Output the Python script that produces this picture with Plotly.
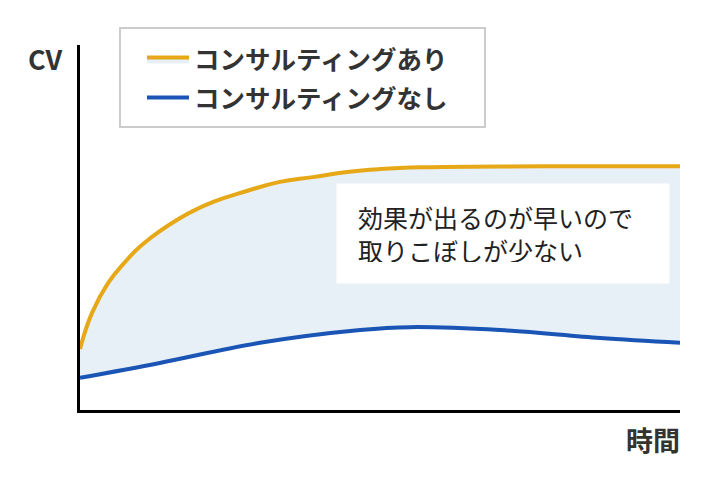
import plotly.graph_objects as go

# Values (x: time 0-100, y: CV 0-100)
time_with = [0, 2, 4.7, 7.5, 10.3, 16.7, 22.2, 27.8, 33.3, 38.8, 44.5, 50, 56.7, 70, 85, 100]
cv_with = [16.7, 26.6, 34.8, 40.5, 45.2, 52.6, 57.0, 60.0, 62.5, 63.8, 65.2, 66.0, 66.5, 66.7, 66.8, 66.8]

time_without = [0, 13.3, 30, 46.7, 55, 70, 86.7, 100]
cv_without = [8.8, 12.9, 18.4, 21.9, 22.7, 21.9, 19.7, 18.4]

label_with = "コンサルティングあり"
label_without = "コンサルティングなし"
note = "効果が出るのが早いので<br>取りこぼしが少ない"

ORANGE = "#E6A817"
BLUE = "#1A55B5"
FILL = "#E7EFF7"
FONT = "Noto Sans CJK JP"

fig = go.Figure()

# lower curve first so the upper one can fill down to it
fig.add_trace(go.Scatter(
    x=time_without, y=cv_without, name=label_without, mode="lines",
    line=dict(color=BLUE, width=4, shape="spline", smoothing=1.0),
    legendgroup="b", legendrank=2,
))
fig.add_trace(go.Scatter(
    x=time_with, y=cv_with, name=label_with, mode="lines",
    line=dict(color=ORANGE, width=4, shape="spline", smoothing=1.3),
    fill="tonexty", fillcolor=FILL,
    legendgroup="a", legendrank=1,
))

# legend frame
fig.add_shape(type="rect", xref="paper", yref="paper",
              x0=0.0667, x1=0.675, y0=0.7753, y1=1.0466,
              line=dict(color="#CCCCCC", width=2), fillcolor="white")

fig.add_annotation(
    text=note, xref="paper", yref="paper", x=0.4267, y=0.6219,
    xanchor="left", yanchor="top", align="left", showarrow=False,
    bgcolor="white", borderpad=21, width=290, height=57,
    font=dict(family=FONT, size=25, color="#222222"),
)
fig.add_annotation(
    text="<b>CV</b>", xref="paper", yref="paper", x=-0.058, y=0.962,
    xanchor="center", yanchor="middle", showarrow=False,
    font=dict(family=FONT, size=27, color="#333333"),
)
fig.add_annotation(
    text="<b>時間</b>", xref="paper", yref="paper", x=0.955, y=-0.082,
    xanchor="center", yanchor="middle", showarrow=False,
    font=dict(family=FONT, size=27, color="#333333"),
)

fig.update_xaxes(range=[0, 100], showline=True, linewidth=3, linecolor="black",
                 showgrid=False, zeroline=False, showticklabels=False, ticks="")
fig.update_yaxes(range=[0, 100], showline=True, linewidth=3, linecolor="black",
                 showgrid=False, zeroline=False, showticklabels=False, ticks="")

# page has an 8px body margin, so the figure is 8px smaller and shifted
fig.update_layout(
    width=712, height=476,
    margin=dict(l=72, r=40, t=37, b=74),
    plot_bgcolor="white", paper_bgcolor="white",
    font=dict(family=FONT),
    legend=dict(
        x=0.1033, y=1.0236, xanchor="left", yanchor="top",
        bgcolor="rgba(0,0,0,0)", borderwidth=0, itemwidth=42,
        font=dict(family=FONT, size=25.5, color="#333333", weight="bold"),
        tracegroupgap=2,
    ),
)

fig.write_html("out.html")
